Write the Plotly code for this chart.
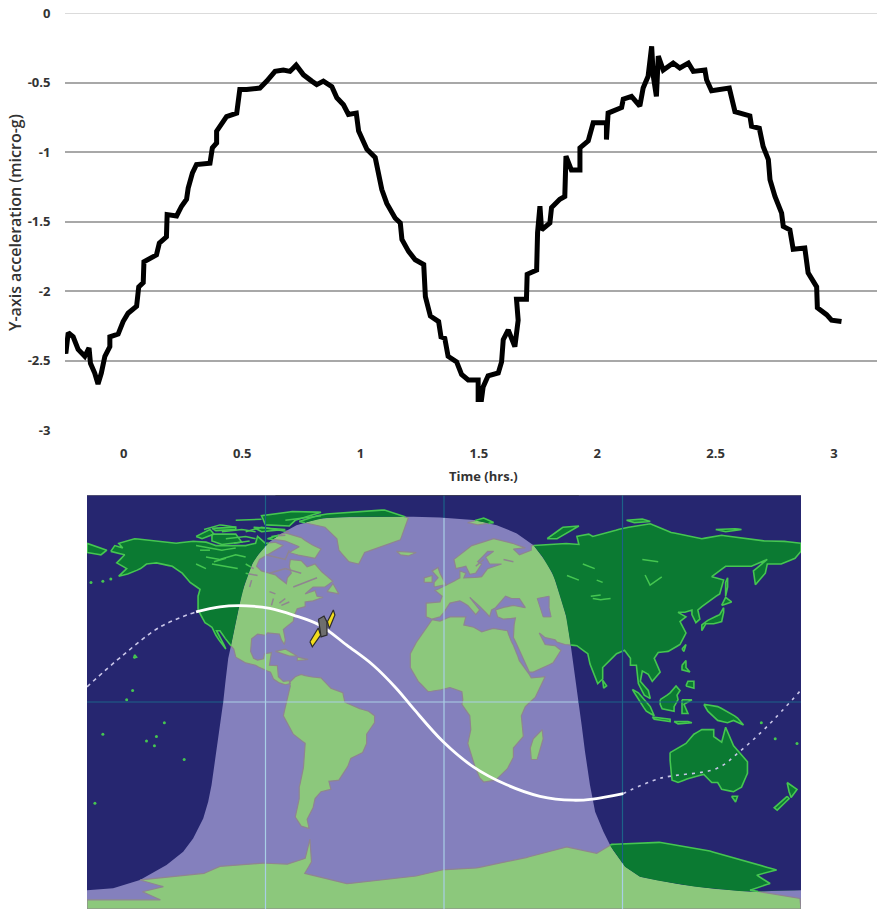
import plotly.graph_objects as go

# ---------- top chart data ----------
TIME_HRS = [-.25,-.245,-.235,-.214,-.193,-.165,-.147,-.141,-.123,-.109,-.095,-.08,-.059,-.059,-.024,-.003,.018,.054,.063,.082,.085,.11,.138,.15,.18,.183,.223,.244,.265,.272,.29,.307,.364,.374,.392,.392,.413,.434,.477,.49,.519,.575,.604,.639,.674,.702,.728,.759,.794,.815,.843,.879,.9,.928,.949,.982,.992,1.027,1.062,1.076,1.09,1.111,1.146,1.168,1.175,1.203,1.231,1.267,1.274,1.295,1.33,1.34,1.356,1.37,1.406,1.427,1.455,1.497,1.497,1.511,1.518,1.539,1.582,1.596,1.603,1.624,1.652,1.666,1.659,1.701,1.704,1.744,1.748,1.758,1.765,1.80,1.807,1.842,1.863,1.868,1.891,1.927,1.927,1.962,1.983,2.039,2.039,2.046,2.103,2.11,2.145,2.18,2.194,2.215,2.23,2.237,2.25,2.258,2.279,2.321,2.349,2.385,2.406,2.455,2.462,2.483,2.558,2.582,2.645,2.652,2.685,2.701,2.723,2.73,2.751,2.779,2.786,2.814,2.828,2.877,2.891,2.927,2.93,2.969,2.99,3.032]
Y_ACCEL = [-2.40,-2.45,-2.30,-2.33,-2.42,-2.47,-2.41,-2.52,-2.59,-2.67,-2.59,-2.47,-2.40,-2.33,-2.31,-2.22,-2.16,-2.11,-1.97,-1.94,-1.79,-1.77,-1.74,-1.655,-1.61,-1.45,-1.46,-1.39,-1.34,-1.26,-1.15,-1.09,-1.08,-.97,-.935,-.85,-.79,-.745,-.72,-.55,-.55,-.54,-.49,-.42,-.41,-.42,-.375,-.445,-.49,-.515,-.49,-.53,-.61,-.66,-.73,-.72,-.85,-.98,-1.04,-1.15,-1.27,-1.37,-1.475,-1.51,-1.63,-1.715,-1.775,-1.81,-2.04,-2.18,-2.22,-2.33,-2.34,-2.47,-2.51,-2.60,-2.64,-2.64,-2.78,-2.78,-2.69,-2.61,-2.59,-2.51,-2.35,-2.28,-2.40,-2.21,-2.06,-2.06,-1.88,-1.85,-1.58,-1.39,-1.56,-1.51,-1.40,-1.34,-1.32,-1.03,-1.13,-1.13,-.97,-.92,-.79,-.79,-.91,-.72,-.68,-.62,-.60,-.67,-.54,-.455,-.24,-.455,-.60,-.31,-.41,-.36,-.395,-.36,-.42,-.41,-.48,-.56,-.54,-.71,-.74,-.815,-.83,-.96,-1.055,-1.20,-1.32,-1.44,-1.535,-1.56,-1.70,-1.69,-1.87,-1.97,-2.12,-2.17,-2.21,-2.22]
X_TICKS = [0, 0.5, 1, 1.5, 2, 2.5, 3]
Y_TICKS = [0, -0.5, -1, -1.5, -2, -2.5, -3]

# ---------- map data (lon, lat) ----------
DAYLIGHT = [(-180,-81.8),(-166.8,-81),(-153.3,-77.4),(-139.9,-70.9),(-131.5,-65.1),(-126.5,-59.3),(-121.4,-50.6),(-118.9,-43.4),(-117.2,-36.1),(-115.5,-26),(-113.9,-17.3),(-112.2,-7.1),(-111.3,0.1),(-110.2,8.8),(-108.8,18.9),(-106.6,27.6),(-104.6,36.3),(-102.1,46.5),(-99.6,53.7),(-96.2,61),(-92,66),(-87.8,69.7),(-81.9,73.3),(-74.4,76.9),(-62.6,79.8),(-49.2,80.5),(-15.5,80.5),(-2,80.2),(14.8,79.1),(26.6,76.9),(36.7,73.3),(45.1,68.2),(50.9,61.7),(55.1,55.2),(58.5,46.5),(61.9,36.3),(63.9,24.7),(66.1,11.7),(67.7,0.1),(69.4,-10),(71.1,-21.6),(73.6,-36.1),(76.2,-47.7),(80.4,-56.4),(84.6,-63.7),(91.3,-71.6),(98.8,-76),(115.6,-78.9),(132.5,-81),(154.3,-82.5),(180,-81.8),(180,-90),(-180,-90)]
NORTH_AMERICA = [(-168,65.5),(-166,68),(-162,67),(-164,69),(-156,71),(-148,70.3),(-140,69.6),(-135,69),(-128,70),(-120,69.5),(-115,68),(-108,68),(-100,68),(-95,69),(-94,72),(-90,69),(-85,69.5),(-81,68),(-87,65),(-93,62),(-94.5,59),(-92,57),(-85,55.3),(-82,53),(-79.5,51.5),(-79,54),(-77,56),(-78,59),(-77.5,62),(-72,61.5),(-69,58.8),(-65,60),(-61.5,56.5),(-56,52.5),(-60,50),(-66,50),(-70,47),(-65,48.5),(-64,46),(-61,45.5),(-66,44),(-70,43.5),(-70,41.5),(-74,40.5),(-75.5,37.5),(-76,35),(-78,33.8),(-81,31.5),(-80,27),(-80.5,25),(-82,27),(-83,29.5),(-85,29.7),(-89,30),(-90,29),(-94,29.5),(-97,27.5),(-97.5,22),(-96,19),(-94,18.2),(-91,18.8),(-90.5,21),(-87,21.5),(-88,16),(-84,15.8),(-83.5,11),(-81,9),(-78,9.3),(-77.5,8),(-80,7.5),(-83,8.3),(-86,10),(-87.5,13),(-92,14.5),(-95,16),(-100,17),(-105,19.5),(-106,23),(-109,26),(-113,31),(-114.7,31),(-112,27),(-110,23),(-112,25),(-115,29),(-117,32.5),(-120.5,34.5),(-122.5,37.5),(-124,40),(-124,46),(-123,49),(-128,52),(-132,56),(-137,59),(-145,60.5),(-150,60),(-153,58),(-158,56),(-164,54.7),(-160,58),(-165,60.5),(-161,64)]
BAFFIN = [(-80,73.5),(-72,71.5),(-68,69),(-62,66.5),(-65,62.5),(-72,63.5),(-78,65),(-73,67.5),(-80,70),(-89,71)]
VICTORIA = [(-117,73),(-105,73),(-102,69.5),(-112,68.5),(-117,70)]
BANKS = [(-125,72),(-118,75),(-116,73),(-122,71)]
ELLESMERE = [(-90,77),(-78,76.5),(-75,79),(-62,82.5),(-75,83),(-92,81)]
DEVON = [(-96,76),(-80,75),(-92,74)]
MELVILLE = [(-117,75.5),(-105,76),(-105,75),(-115,74.5)]
GREENLAND = [(-73,78.5),(-60,76),(-54,71),(-53,66),(-48,61),(-43,60),(-40,65),(-30,68),(-22,70.5),(-20,75),(-18,80),(-30,83.5),(-50,82.5),(-62,81.5)]
SOUTH_AMERICA = [(-78,8.5),(-75,11),(-72,12),(-68,11),(-62,10.5),(-57,6),(-51,4),(-50,0),(-44,-2.5),(-38,-4),(-35,-6),(-35,-9),(-39,-14),(-39,-18),(-41,-22),(-47,-24.5),(-48.5,-28),(-53,-34),(-58,-34.5),(-57,-38),(-62,-39),(-65,-42),(-66,-46),(-69,-51),(-68,-55),(-72,-54),(-75,-50),(-73,-42),(-73,-37),(-71,-30),(-70,-18),(-76,-14),(-81,-6),(-80,-2),(-79,2),(-77.5,7)]
AFRICA = [(-6,35.8),(-10,31),(-13,27.5),(-17,21),(-17,15),(-13,9),(-8,4.5),(-3,5),(3,6.3),(9,4.5),(9.5,1),(9,-1),(13,-6),(13.5,-12),(12,-18),(15,-27),(18,-33),(20,-34.8),(26,-34),(32,-29),(35,-24),(35,-20),(40,-15),(39,-6),(41,-2),(46,2),(51,11),(44,10.5),(43,12),(38,18),(36,23),(33,28),(32,31),(25,32),(20,31),(19,30.5),(15,32.5),(10,33.5),(11,37),(3,37),(-2,35.2)]
MADAGASCAR = [(49.5,-12),(50,-16),(47,-25),(44,-25),(43.5,-20),(45,-16)]
EURASIA = [(-9,37),(-9,43),(-2,43.5),(-1,46),(-4.5,48.5),(2,51),(8,54),(8,57),(11,56),(10,54),(14,54),(19,54.5),(22,58),(29,60),(23,60),(21,63),(25,65.5),(22,65.5),(17,61),(19,60),(16,56),(13,55.5),(11,59),(6,58),(5,62),(14,68),(25,71),(33,69.5),(41,67),(35,66.5),(38,64),(44,66),(44,68),(54,68.5),(60,69),(68,68.5),(67,72),(73,73),(75,72),(80,73),(90,75.5),(104,77.5),(113,74),(130,71),(140,72.5),(160,70),(170,70),(180,69),(180,65.5),(177,62.5),(170,60),(163,60),(162,56),(157,51),(156,57),(163,62),(155,59),(142,59),(135,54.5),(141,53),(139,47),(132,43),(128,40),(129,36),(127,34.5),(125,38),(125,40),(121.5,39),(118,39),(122,37),(119,35),(122,30),(119,25),(113,22),(108,21.5),(106,19),(109,13),(105,9),(103,12),(100,13.5),(99,9),(103,5),(104,1.5),(101,3),(98,8),(97,16),(94,16),(94,19),(91,22.5),(87,21),(80,15),(80,10),(77.5,8),(74,15),(72.5,21),(67,24.5),(61,25),(57,26),(56,27),(51,28),(48,30),(51,25),(56,24.5),(59,22.5),(55,17),(45,13),(43,13),(39,21),(35,28),(35,32),(36,36.5),(30,36),(27,37),(26,40),(29,41),(35,42),(41,41),(38,45),(34,45),(31,46),(28,43),(26,41),(24,40),(23,37),(20,40),(13,45.5),(18,40),(16,38),(12,42),(8,44),(3,43),(0,39),(-2,37),(-6,36)]
CHUKOTKA_WEST = [(-180,69),(-170,66),(-173,64),(-180,65)]
BRITAIN = [(-5,50),(1,51),(-2,56),(-3,58.5),(-6,57),(-3,54),(-5,52)]
IRELAND = [(-10,52),(-6,52),(-6,55),(-10,54)]
ICELAND = [(-24,65.5),(-14,65),(-18,63.5),(-22,64)]
SVALBARD = [(12,78),(20,80),(25,78),(17,77)]
NOVAYA_ZEMLYA = [(52,71),(57,71),(68,76.5),(60,76)]
SEVERNAYA = [(92,79),(100,79.5),(104,78.5),(96,78)]
NEW_SIBERIA = [(137,75),(145,75.5),(150,75),(142,74)]
HONSHU = [(130,31),(132,34),(136,34),(140,35),(141,39),(141,41),(139,38),(133,35.5),(130,33.5)]
HOKKAIDO = [(140,42),(145,43.5),(142,45.5)]
SAKHALIN = [(142,46),(143,50),(143,54),(142,52)]
TAIWAN = [(120,23),(122,25),(121,22)]
LUZON = [(120,16),(122,18),(122,15),(124,13),(120,14)]
MINDANAO = [(122,7),(126,6),(126,9),(123,9)]
BORNEO = [(109,1),(111,2),(114,4),(117,7),(119,5),(117.5,3),(118,1),(116,-2),(116,-4),(110,-3),(109,-1)]
SUMATRA = [(95,5.5),(98,4),(104,-2),(106,-6),(102,-4),(98,1)]
JAVA = [(105,-6.5),(114,-7.5),(114,-8.5),(106,-7.5)]
SULAWESI = [(120,1),(125,1),(121,-1),(123,-5),(120,-5)]
NEW_GUINEA = [(131,-1),(138,-2),(145,-5),(148,-7),(151,-10),(146,-8),(143,-9),(138,-8),(133,-4)]
TIMOR = [(116,-8.5),(123,-8.5),(125,-9),(118,-9.5)]
AUSTRALIA = [(114,-22),(122,-18),(126,-14),(130,-12),(136,-12),(136,-15),(140,-17.5),(142,-11),(146,-19),(153,-26),(153,-31),(150,-37),(146,-39),(140,-38),(138,-35),(135,-35),(131,-31.5),(124,-33),(118,-35),(115,-34),(114,-27)]
TASMANIA = [(145,-41),(148,-41),(147,-43.5)]
NZ_NORTH = [(173,-35),(178,-38),(175,-41.5),(174,-39)]
NZ_SOUTH = [(173,-41),(174,-42),(168,-47),(166.5,-46)]
SRI_LANKA = [(80,9.5),(82,7),(80.5,6)]
CUBA = [(-85,22),(-80,23),(-74,20),(-78,20)]
HISPANIOLA = [(-74,19.5),(-68.5,18.5),(-74,18)]
NEWFOUNDLAND = [(-59,48),(-53,47),(-56,51.5)]
HAWAII = [(-156.5,19),(-155,19.5),(-156,20.5)]
ANTARCTICA = [(-180,-86),(-143,-86),(-152,-82.5),(-141.5,-80.3),(-153.3,-77.4),(-138,-76),(-121,-74.5),(-113,-71.5),(-93,-70),(-79,-70.5),(-70,-68),(-67.6,-59.6),(-66.8,-69.5),(-70.2,-74.5),(-49,-79),(-15.5,-76),(-2,-73),(14.8,-72.4),(36.7,-68.7),(61.9,-63),(77,-65.8),(84.6,-61.9),(107,-60.8),(132.5,-64.4),(149.3,-68.7),(167.7,-73),(157.7,-75.3),(164.4,-78.9),(154.3,-81.8),(179.5,-85.4),(180,-90),(-180,-90)]
LANDS = [NORTH_AMERICA,BAFFIN,VICTORIA,BANKS,ELLESMERE,DEVON,MELVILLE,GREENLAND,SOUTH_AMERICA,AFRICA,MADAGASCAR,EURASIA,CHUKOTKA_WEST,BRITAIN,IRELAND,ICELAND,SVALBARD,NOVAYA_ZEMLYA,SEVERNAYA,NEW_SIBERIA,HONSHU,HOKKAIDO,SAKHALIN,TAIWAN,LUZON,MINDANAO,BORNEO,SUMATRA,JAVA,SULAWESI,NEW_GUINEA,TIMOR,AUSTRALIA,TASMANIA,NZ_NORTH,NZ_SOUTH,SRI_LANKA,CUBA,HISPANIOLA,NEWFOUNDLAND,HAWAII,ANTARCTICA]
CASPIAN = [(47,45),(53,46),(53,41),(54,37),(50,37),(49,40)]
INLAND_WATER = [[(101.4,55.2),(103.9,50.8),(109.8,54.4)],[(74,46),(79,46.5)],[(75,45),(79,44.5),(84,45)],[(77,53),(80,52)],[(-123,66),(-118,66)],[(-116,61),(-110,62.5)],[(-98,50),(-97,53)],[(-88,48),(-85,47)],[(-87,42),(-86,45)],[(-83,43),(-80,45)],[(-82,42),(-78,43.5)],[(100,62),(108,61)],[(70,60),(76,58)],[(62,55),(68,53)],[(30,62),(35,61)],[(16,59),(20,62)],
                [(-121,75),(-113,77),(-105,76)],[(-100,74),(-92,76),(-85,75),(-78,74)],[(-125,68),(-118,67),(-112,66),(-105,67)],[(-110,71),(-100,72),(-95,71)],[(-120,63),(-113,62),(-105,64),(-100,63)],[(-117,60),(-110,59),(-104,58)],[(-100,60),(-96,58)],[(-125,60),(-120,58)],[(-100,56),(-94,55)],[(-80,79),(-70,80),(-62,81)],[(-112,74),(-102,75),(-95,74)],[(-106,69),(-98,70)],[(-87,72),(-80,72.5)],[(-105,79),(-92,79.5)],[(-90,64),(-80,62),(-78,66)],[(-88,56),(-80,58),(-72,56)],[(-76,50),(-70,52),(-64,54)]]
PACIFIC_DOTS = [(-178,52),(-172,52.5),(-168,53.5),(-157,5),(-141,-9),(-145,-15),(-150,-17),(-146,-19),(-131,-25),(-176,-44),(-160,1),(178,-18),(167,-16),(160,-9),(-172,-14)]
ORBIT_LON = [-125,-113,-99.6,-87.8,-76,-62.6,-49,-35.7,-24,-15.5,-0.4,14.8,31.6,48.4,65.2,75,90.4]
ORBIT_LAT = [39.2,41.4,41.8,40.7,37.8,33.4,24.7,16,5.9,-2.8,-17.3,-28.2,-36,-41,-42.7,-42.2,-39.8]
ORBIT_WEST_LON = [-180,-161.8,-143,-125]
ORBIT_WEST_LAT = [6.6,20.4,32.7,39.2]
ORBIT_EAST_LON = [90.4,109,137.5,149,162.7,180]
ORBIT_EAST_LAT = [-39.8,-33.2,-28.9,-21.6,-10.8,5.2]
PANEL_LOW = [(-67.6,26.2),(-63.4,32.2),(-62.2,29.1),(-66.4,24)]
PANEL_UP = [(-58.8,34.9),(-55.8,40),(-55,37.8),(-57.8,32)]
SAT_BODY = [(-63.3,36),(-60.5,37.4),(-59,34.8),(-59,29.1),(-62,28.3)]

NIGHT_OCEAN, DAY_OCEAN = "#262670", "#8480bd"
NIGHT_LAND, DAY_LAND = "#0b7a32", "#8cc87c"
NIGHT_COAST, DAY_COAST = "#45c650", "#8f8590"


def is_day(p):
    x, y = p
    c = False
    n = len(DAYLIGHT)
    for i in range(n):
        x1, y1 = DAYLIGHT[i]
        x2, y2 = DAYLIGHT[(i + 1) % n]
        if (y1 > y) != (y2 > y) and x < x1 + (y - y1) * (x2 - x1) / (y2 - y1):
            c = not c
    return c


def cross(a, b):
    ia = is_day(a)
    for _ in range(18):
        m = ((a[0] + b[0]) / 2, (a[1] + b[1]) / 2)
        if is_day(m) == ia:
            a = m
        else:
            b = m
    return a


BOUND = []
for _i in range(len(DAYLIGHT)):
    _a, _b = DAYLIGHT[_i], DAYLIGHT[(_i + 1) % len(DAYLIGHT)]
    for _k in range(8):
        BOUND.append((_a[0] + (_b[0] - _a[0]) * _k / 8, _a[1] + (_b[1] - _a[1]) * _k / 8))


def arc(p, q):
    """Points along the day/night boundary between p and q (shorter way)."""
    near = lambda t: min(range(len(BOUND)), key=lambda i: (BOUND[i][0] - t[0]) ** 2 + (BOUND[i][1] - t[1]) ** 2)
    i, j = near(p), near(q)
    n = len(BOUND)
    fwd = (j - i) % n
    if fwd <= n - fwd:
        return [BOUND[(i + k) % n] for k in range(fwd + 1)]
    return [BOUND[(i - k) % n] for k in range(n - fwd + 1)]


def walk(pts, closed):
    """Split a path at the day/night boundary into rings and outlines."""
    seq = list(pts) + ([pts[0]] if closed else [])
    ring = {True: [], False: []}
    lines = {True: [[]], False: [[]]}
    exit_pt = {True: None, False: None}
    first_in = {True: None, False: None}
    for a, b in zip(seq[:-1], seq[1:]):
        steps = max(1, int(max(abs(a[0] - b[0]), abs(a[1] - b[1])) / 1.5))
        for k in range(steps):
            p = (a[0] + (b[0] - a[0]) * k / steps, a[1] + (b[1] - a[1]) * k / steps)
            q = (a[0] + (b[0] - a[0]) * (k + 1) / steps, a[1] + (b[1] - a[1]) * (k + 1) / steps)
            dp, dq = is_day(p), is_day(q)
            ring[dp].append(p)
            lines[dp][-1].append(p)
            if dp != dq:
                c = cross(p, q)
                ring[dp].append(c)
                exit_pt[dp] = c
                if exit_pt[dq] is not None:
                    ring[dq] += arc(exit_pt[dq], c)
                elif first_in[dq] is None:
                    first_in[dq] = c
                ring[dq].append(c)
                lines[dp][-1].append(c)
                lines[dp].append([])
                lines[dq][-1].append(c)
    last = seq[-1]
    lines[is_day(last)][-1].append(last)
    if closed:
        for side in (True, False):
            if first_in[side] is not None and exit_pt[side] is not None:
                ring[side] += arc(exit_pt[side], first_in[side])
    return ring, lines


def flat(paths, close=False):
    xs, ys = [], []
    for path in paths:
        if not path:
            continue
        pp = path + [path[0]] if close else path
        xs += [p[0] for p in pp] + [None]
        ys += [p[1] for p in pp] + [None]
    return xs, ys


fill = {True: [], False: []}
coast = {True: [], False: []}
for land in LANDS:
    r, l = walk(land, True)
    for side in (True, False):
        if r[side]:
            fill[side].append(r[side])
        coast[side] += l[side]
inland = {True: [], False: []}
for seg in INLAND_WATER:
    _, l = walk(seg, False)
    inland[True] += l[True]
    inland[False] += l[False]

fig = go.Figure()
M = dict(xaxis="x2", yaxis="y2", hoverinfo="skip", showlegend=False)


def poly(paths, color, close=True):
    x, y = flat(paths, close)
    fig.add_trace(go.Scatter(x=x, y=y, mode="lines", fill="toself", fillcolor=color, line=dict(width=0, color=color), **M))


def path(paths, color, width, dash="solid", clip=True):
    x, y = flat(paths)
    fig.add_trace(go.Scatter(x=x, y=y, mode="lines", line=dict(color=color, width=width, dash=dash), cliponaxis=clip, **M))


poly([[(-180, 90), (180, 90), (180, -90), (-180, -90)]], NIGHT_OCEAN)
poly([DAYLIGHT], DAY_OCEAN)
poly(fill[True], DAY_LAND)
path(coast[True], DAY_COAST, 1.2)
poly(fill[False], NIGHT_LAND)
path(coast[False], NIGHT_COAST, 1.6)
poly([CASPIAN], DAY_OCEAN)
path([CASPIAN + [CASPIAN[0]]], DAY_COAST, 1)
path(inland[True], DAY_COAST, 1.5)
path(inland[False], NIGHT_COAST, 1.5)
fig.add_trace(go.Scatter(x=[p[0] for p in PACIFIC_DOTS], y=[p[1] for p in PACIFIC_DOTS], mode="markers", marker=dict(size=3, color=NIGHT_COAST), **M))

# graticule
for g in ([(-90, 90), (-90, -90)], [(0, 90), (0, -90)], [(90, 90), (90, -90)], [(-180, 0), (180, 0)]):
    _, l = walk(g, False)
    path(l[True], "#a9cfe6", 1.2)
    path(l[False], "#1c6288", 1.2)

# frame strip along the top of the map
path([[(-180, 90), (180, 90)]], "#777777", 1, clip=False)
path([[(-85, 90.5), (68, 90.5)]], "#000000", 3, clip=False)

# orbit
fig.add_trace(go.Scatter(x=ORBIT_WEST_LON, y=ORBIT_WEST_LAT, mode="lines", line=dict(color="#c9c6e8", width=1.6, dash="4px,4px", shape="spline"), **M))
fig.add_trace(go.Scatter(x=ORBIT_EAST_LON, y=ORBIT_EAST_LAT, mode="lines", line=dict(color="#c9c6e8", width=1.6, dash="3px,5px", shape="spline"), **M))
fig.add_trace(go.Scatter(x=ORBIT_LON, y=ORBIT_LAT, mode="lines", line=dict(color="#ffffff", width=2.8, shape="spline"), **M))

# satellite icon
for shape_pts, color in ((PANEL_LOW, "#f3dc1c"), (PANEL_UP, "#f3dc1c"), (SAT_BODY, "#6e6e6e")):
    closed = shape_pts + [shape_pts[0]]
    fig.add_trace(go.Scatter(x=[p[0] for p in closed], y=[p[1] for p in closed], mode="lines", fill="toself", fillcolor=color, line=dict(color="#2c2c2c", width=1.2), **M))

# acceleration trace
fig.add_trace(go.Scatter(x=TIME_HRS, y=Y_ACCEL, mode="lines", line=dict(color="#000000", width=5), showlegend=False, xaxis="x", yaxis="y", hoverinfo="skip"))

W, H = 877, 909
TICK = dict(family="Open Sans", size=13, color="#333333", weight=700)
fig.update_layout(
    width=W, height=H, margin=dict(l=0, r=0, t=0, b=0), autosize=False,
    paper_bgcolor="#ffffff", plot_bgcolor="#ffffff", showlegend=False,
    xaxis=dict(domain=[65 / W, 1], range=[-0.2485, 3.182], tickvals=X_TICKS, ticktext=[f"{v:g}" for v in X_TICKS],
               showgrid=False, zeroline=False, ticks="outside", ticklen=11, tickcolor="rgba(0,0,0,0)", tickfont=TICK, anchor="y", automargin=False),
    yaxis=dict(domain=[(H - 430) / H, (H - 13) / H], range=[-3, 0], tickvals=Y_TICKS, ticktext=[f"{v:g}" for v in Y_TICKS],
               showgrid=True, gridcolor="#a8a8a8", gridwidth=1.5, zeroline=False, ticks="outside", ticklen=11,
               tickcolor="rgba(0,0,0,0)", tickfont=TICK, anchor="x", automargin=False),
    xaxis2=dict(domain=[87 / W, 801 / W], range=[-180, 180], visible=False, anchor="y2", fixedrange=True, automargin=False),
    yaxis2=dict(domain=[0, (H - 495) / H], range=[-90, 90], visible=False, anchor="x2", fixedrange=True, automargin=False),
    annotations=[dict(text="Time (hrs.)", xref="paper", yref="paper", x=484 / W, y=(H - 476) / H, xanchor="center", yanchor="middle", showarrow=False,
                      font=dict(family="Open Sans", size=13, color="#333333", weight=700)),
                 dict(text="Y-axis acceleration (micro-g)", xref="paper", yref="paper", x=15 / W, y=(H - 223) / H, xanchor="center", yanchor="middle", textangle=-90, showarrow=False,
                      font=dict(family="Open Sans", size=16, color="#333333", weight=600))],
    shapes=[dict(type="line", xref="x domain", yref="y", x0=0, x1=1, y0=0, y1=0, line=dict(color="#cfcfcf", width=1.5))],
)
fig.write_html("out.html", config={"displayModeBar": False},
               post_script="document.body.style.margin='0';")
